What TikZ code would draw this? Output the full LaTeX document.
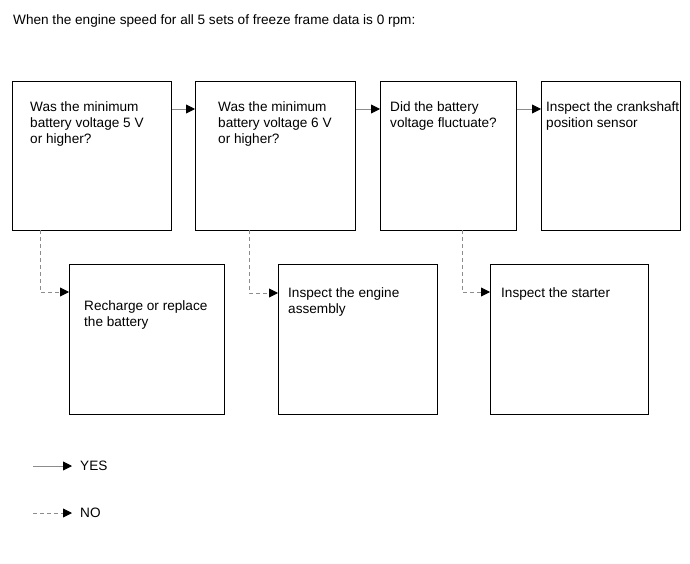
\documentclass[tikz,border=0pt]{standalone}
\usepackage{fontspec}
\setmainfont{Liberation Sans}
\usetikzlibrary{arrows.meta,calc}
\begin{document}
\begin{tikzpicture}[x=1pt,y=-1pt,
  every node/.style={font=\fontsize{13.6}{16}\selectfont},
  box/.style={draw=black,line width=1.2pt,rectangle,inner sep=0pt,anchor=north west},
  txt/.style={anchor=north west,inner sep=0pt,align=left},
  yes/.style={draw=gray!90,line width=0.9pt,-{Triangle[length=9pt,width=9pt,fill=black,color=black]}},
  no/.style={draw=gray!90,line width=0.9pt,dash pattern=on 4pt off 3pt,-{Triangle[length=9pt,width=9pt,fill=black,color=black]}}]
\useasboundingbox (0,0) rectangle (690,564);
\node[txt] (title) at (13,14) {When the engine speed for all 5 sets of freeze frame data is 0 rpm:};
% top row
\node[box,minimum width=159pt,minimum height=149pt] (b1) at (12,81) {};
\node[box,minimum width=160pt,minimum height=149pt] (b2) at (195,81) {};
\node[box,minimum width=136pt,minimum height=149pt] (b3) at (380,81) {};
\node[box,minimum width=139pt,minimum height=149pt] (b4) at (541,81) {};
% bottom row
\node[box,minimum width=155pt,minimum height=150pt] (b5) at (69,264) {};
\node[box,minimum width=159pt,minimum height=150pt] (b6) at (278,264) {};
\node[box,minimum width=158pt,minimum height=150pt] (b7) at (490,264) {};
% texts
\node[txt] (t1) at (30,101) {Was the minimum\\battery voltage 5 V\\or higher?};
\node[txt] (t2) at (218,101) {Was the minimum\\battery voltage 6 V\\or higher?};
\node[txt] (t3) at (390,101) {Did the battery\\voltage fluctuate?};
\node[txt] (t4) at (546,101) {Inspect the crankshaft\\position sensor};
\node[txt] (t5) at (84,300) {Recharge or replace\\the battery};
\node[txt] (t6) at (288,287) {Inspect the engine\\assembly};
\node[txt] (t7) at (501,287) {Inspect the starter};
% yes connectors
\coordinate (y1) at ($(b1.north east)+(0,28)$);
\draw[yes] (y1) -- (y1 -| b2.west);
\coordinate (y2) at ($(b2.north east)+(0,28)$);
\draw[yes] (y2) -- (y2 -| b3.west);
\coordinate (y3) at ($(b3.north east)+(0,28)$);
\draw[yes] (y3) -- (y3 -| b4.west);
% no connectors
\coordinate (n1) at (40,230);
\draw[no] (n1) |- ($(b5.north west)+(0,28)$);
\coordinate (n2) at (249,230);
\draw[no] (n2) |- ($(b6.north west)+(0,29)$);
\coordinate (n3) at (462,230);
\draw[no] (n3) |- ($(b7.north west)+(0,28)$);
% legend
\coordinate (ly) at (33,466);
\coordinate (lye) at (72,466);
\draw[yes] (ly) -- (lye);
\node[anchor=west,inner sep=0pt] (lyes) at (80,466) {YES};
\coordinate (ln) at (33,513);
\coordinate (lne) at (72,513);
\draw[no] (ln) -- (lne);
\node[anchor=west,inner sep=0pt] (lno) at (80,513) {NO};
\end{tikzpicture}
\end{document}
